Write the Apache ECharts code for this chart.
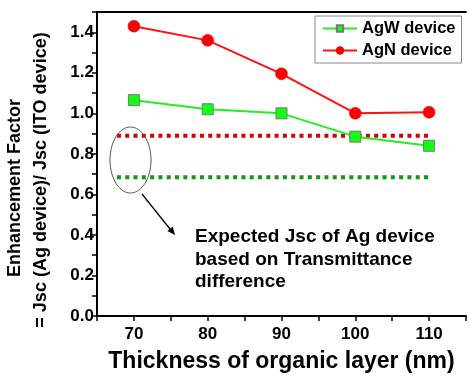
<!DOCTYPE html>
<html>
<head>
<meta charset="utf-8">
<script src="https://cdn.jsdelivr.net/npm/echarts@6/dist/echarts.min.js"></script>
<style>
  html, body { margin: 0; padding: 0; background: #fff; }
  #chart { width: 469px; height: 378px; }
</style>
</head>
<body>
<div id="chart"></div>
<script>
// Organic layer thickness (nm)
const thickness = [70, 80, 90, 100, 110];
// Enhancement factor = Jsc(Ag device) / Jsc(ITO device)
const agwDevice = [1.065, 1.02, 1.0, 0.885, 0.84];
const agnDevice = [1.43, 1.36, 1.195, 1.0, 1.005];
// Expected levels from the transmittance difference
const expectedX = [67.7, 110];
const expectedAgN = 0.89;
const expectedAgW = 0.685;

const FONT = 'Liberation Sans, Arial, sans-serif';

const chart = echarts.init(document.getElementById('chart'), null, { renderer: 'canvas' });

chart.setOption({
  animation: false,
  backgroundColor: '#fff',
  grid: { left: 97, right: -2, top: 12, bottom: 62, containLabel: false },
  legend: {
    orient: 'vertical',
    left: 315,
    top: 16,
    backgroundColor: '#fff',
    borderColor: '#888',
    borderWidth: 1,
    borderRadius: 0,
    padding: [4, 6, 4, 7],
    itemGap: 5,
    itemWidth: 34,
    itemHeight: 8,
    data: ['AgW device', 'AgN device'],
    textStyle: { fontFamily: FONT, fontWeight: 'bold', fontSize: 16.5, color: '#000' }
  },
  xAxis: [{
    type: 'value',
    min: 65, max: 115, interval: 5,
    axisLine: { lineStyle: { color: '#000', width: 2 } },
    axisTick: { show: true, inside: false, length: 5, lineStyle: { color: '#000', width: 1.5 } },
    axisLabel: {
      margin: 10,
      fontFamily: FONT, fontWeight: 'bold', fontSize: 17, color: '#000',
      formatter: v => (Math.round(v) % 10 === 0 && v > 65 && v < 115) ? String(Math.round(v)) : ''
    },
    splitLine: { show: false },
    name: 'Thickness of organic layer (nm)',
    nameLocation: 'middle',
    nameGap: 34,
    nameTextStyle: { fontFamily: FONT, fontWeight: 'bold', fontSize: 23, color: '#000' }
  }, {
    type: 'value',
    position: 'top',
    min: 65, max: 115,
    axisLine: { show: true, lineStyle: { color: '#000', width: 2 } },
    axisTick: { show: false },
    axisLabel: { show: false },
    splitLine: { show: false }
  }],
  yAxis: {
    type: 'value',
    min: 0, max: 1.5, interval: 0.1,
    axisLine: { show: true, lineStyle: { color: '#000', width: 2 } },
    axisTick: { show: true, inside: false, length: 5, lineStyle: { color: '#000', width: 1.5 } },
    axisLabel: {
      margin: 3,
      fontFamily: FONT, fontWeight: 'bold', fontSize: 17, color: '#000',
      formatter: v => {
        const k = Math.round(v * 10);
        return (k % 2 === 0 && k < 15) ? (k / 10).toFixed(1) : '';
      }
    },
    splitLine: { show: false }
  },
  graphic: [
    // y-axis title, two rotated lines
    {
      type: 'text', x: 15, y: 188, rotation: Math.PI / 2,
      style: { text: 'Enhancement Factor', font: 'bold 18px ' + FONT, fill: '#000', align: 'center', verticalAlign: 'middle' }
    },
    {
      type: 'text', x: 41, y: 180, rotation: Math.PI / 2,
      style: { text: '= Jsc (Ag device)/ Jsc (ITO device)', font: 'bold 18px ' + FONT, fill: '#000', align: 'center', verticalAlign: 'middle' }
    },
    // ellipse around the expected levels and the pointer to the note
    {
      type: 'ellipse', shape: { cx: 130.5, cy: 160, rx: 20.5, ry: 33 },
      style: { fill: 'none', stroke: '#555', lineWidth: 1 }, z: 10
    },
    {
      type: 'line', shape: { x1: 142, y1: 194, x2: 172, y2: 231.5 },
      style: { stroke: '#000', lineWidth: 1.3 }, z: 10
    },
    {
      type: 'polygon', shape: { points: [[175, 235], [167.3, 231], [172.7, 226.6]] },
      style: { fill: '#000' }, z: 10
    },
    {
      type: 'text', x: 195, y: 226,
      style: {
        text: 'Expected Jsc of Ag device\nbased on Transmittance\ndifference',
        font: 'bold 19px ' + FONT, lineHeight: 22.5, fill: '#000'
      }, z: 10
    }
  ],
  series: [
    {
      name: 'Expected AgN',
      type: 'line',
      data: expectedX.map(x => [x, expectedAgN]),
      showSymbol: false,
      symbol: 'none',
      lineStyle: { color: '#d40000', width: 4, type: [4, 4.3] },
      z: 1
    },
    {
      name: 'Expected AgW',
      type: 'line',
      data: expectedX.map(x => [x, expectedAgW]),
      showSymbol: false,
      symbol: 'none',
      lineStyle: { color: '#129912', width: 4, type: [4, 4.3] },
      z: 1
    },
    {
      name: 'AgW device',
      type: 'line',
      data: thickness.map((x, i) => [x, agwDevice[i]]),
      symbol: 'rect',
      symbolSize: 11,
      lineStyle: { color: '#22ee22', width: 2 },
      itemStyle: { color: '#11ff11', borderColor: '#777', borderWidth: 1 },
      z: 3
    },
    {
      name: 'AgN device',
      type: 'line',
      data: thickness.map((x, i) => [x, agnDevice[i]]),
      symbol: 'circle',
      symbolSize: 12,
      lineStyle: { color: '#ff1111', width: 2 },
      itemStyle: { color: '#ff0000', borderColor: '#ee0000', borderWidth: 0.5 },
      z: 3
    }
  ]
});
</script>
</body>
</html>
